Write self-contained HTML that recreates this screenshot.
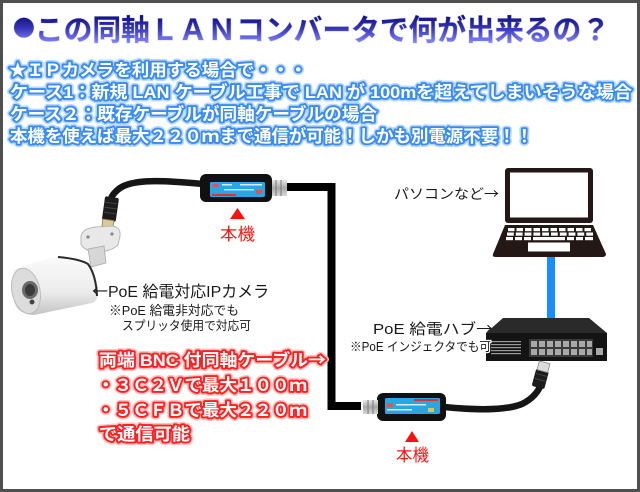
<!DOCTYPE html>
<html><head><meta charset="utf-8">
<style>
html,body{margin:0;padding:0;background:#fff;width:640px;height:492px;overflow:hidden;}
svg{display:block;}
text{font-family:"Liberation Sans","Noto Sans CJK JP",sans-serif;}
.s{font-family:"Noto Sans CJK JP",sans-serif;}
</style></head><body>
<svg width="640" height="492" viewBox="0 0 640 492" xmlns="http://www.w3.org/2000/svg">
<defs>
<linearGradient id="tg" x1="0" y1="14" x2="0" y2="42" gradientUnits="userSpaceOnUse">
<stop offset="0" stop-color="#0c0c72"/><stop offset="0.5" stop-color="#3434b8"/><stop offset="1" stop-color="#8080f8"/>
</linearGradient>
<linearGradient id="camb" x1="0" y1="0" x2="0" y2="1">
<stop offset="0" stop-color="#fafafa"/><stop offset="0.6" stop-color="#ececec"/><stop offset="1" stop-color="#c4c4c4"/>
</linearGradient>
<linearGradient id="bnc" x1="0" y1="0" x2="0" y2="1">
<stop offset="0" stop-color="#e8e8e8"/><stop offset="0.5" stop-color="#a8a8a8"/><stop offset="1" stop-color="#d8d8d8"/>
</linearGradient>
</defs>
<rect width="640" height="492" fill="#fff"/>

<!-- Title -->
<text x="9" y="40" font-size="29" font-weight="bold" fill="url(#tg)" stroke="#d4d4f4" stroke-width="1" paint-order="stroke" textLength="597" lengthAdjust="spacingAndGlyphs"><tspan class="s" font-size="22" dx="4" dy="-4">●</tspan><tspan dy="4">この同軸ＬＡＮコンバータで何が出来るの？</tspan></text>

<!-- Blue lines: halo -->
<g font-size="17" font-weight="bold" fill="#b8d8ff" stroke="#b8d8ff" stroke-width="7" stroke-linejoin="round">
<text x="9" y="76" textLength="298" lengthAdjust="spacingAndGlyphs"><tspan class="s">★</tspan>ＩＰカメラを利用する場合で・・・</text>
<text x="10" y="98" textLength="622" lengthAdjust="spacingAndGlyphs">ケース1：新規 LAN ケーブル工事で LAN が 100mを超えてしまいそうな場合</text>
<text x="10" y="120" textLength="367" lengthAdjust="spacingAndGlyphs">ケース２：既存ケーブルが同軸ケーブルの場合</text>
<text x="10" y="142" textLength="523" lengthAdjust="spacingAndGlyphs">本機を使えば最大２２０ｍまで通信が可能！しかも別電源不要！！</text>
</g>
<g font-size="17" font-weight="bold" fill="#fff" stroke="#3a8cf0" stroke-width="3.8" stroke-linejoin="round" paint-order="stroke">
<text x="9" y="76" textLength="298" lengthAdjust="spacingAndGlyphs"><tspan class="s">★</tspan>ＩＰカメラを利用する場合で・・・</text>
<text x="10" y="98" textLength="622" lengthAdjust="spacingAndGlyphs">ケース1：新規 LAN ケーブル工事で LAN が 100mを超えてしまいそうな場合</text>
<text x="10" y="120" textLength="367" lengthAdjust="spacingAndGlyphs">ケース２：既存ケーブルが同軸ケーブルの場合</text>
<text x="10" y="142" textLength="523" lengthAdjust="spacingAndGlyphs">本機を使えば最大２２０ｍまで通信が可能！しかも別電源不要！！</text>
</g>

<!-- Coax cable -->
<path d="M286 187 H331.5 V406 H361" fill="none" stroke="#000" stroke-width="8" stroke-linejoin="miter"/>

<!-- Top device cable -->
<path d="M204 184 C170 181,135 178,120 188 C112 194,111 198,110 202" fill="none" stroke="#151515" stroke-width="6.5" stroke-linecap="round"/>
<g transform="rotate(8 110 212)">
<rect x="103" y="197" width="14" height="24" rx="2" fill="#1c1c1c"/>
<line x1="104" y1="203" x2="116" y2="203" stroke="#444" stroke-width="1"/>
<line x1="104" y1="208" x2="116" y2="208" stroke="#444" stroke-width="1"/>
<line x1="104" y1="213" x2="116" y2="213" stroke="#444" stroke-width="1"/>
<rect x="104" y="220" width="11" height="11" fill="#d8c89a" stroke="#8a7a50" stroke-width="0.8"/>
</g>
<!-- Top device -->
<rect x="200" y="174" width="72" height="28" rx="6" fill="#111"/>
<rect x="210" y="182" width="55" height="15" rx="1.5" fill="#2aa6e2"/>
<rect x="212" y="194" width="24" height="2" fill="#e03030"/>
<rect x="213" y="184" width="5" height="3" fill="#e85050"/>
<rect x="222" y="184" width="10" height="1.5" fill="#fff" opacity="0.8"/>
<rect x="240" y="184" width="22" height="1.5" fill="#fff" opacity="0.8"/>
<rect x="224" y="189" width="30" height="1.5" fill="#fff" opacity="0.7"/>
<rect x="256" y="190" width="6" height="4" fill="#e85050"/>
<rect x="272" y="180" width="15" height="16" fill="url(#bnc)"/>
<line x1="276" y1="180" x2="276" y2="196" stroke="#777" stroke-width="1"/>
<line x1="281" y1="180" x2="281" y2="196" stroke="#777" stroke-width="1"/>
<polygon points="237.5,208 230,219 245,219" fill="#ff1010"/>
<text x="220" y="240" font-size="17" fill="#ff1414" textLength="35" lengthAdjust="spacingAndGlyphs">本機</text>

<!-- Camera -->
<path d="M81 236 Q83 228 96 227 L112 226 Q121 227 120 236 L118 245 Q110 252 96 252 Q84 251 81 244 Z" fill="#e8e8e8" stroke="#b8b8b8" stroke-width="1"/>
<circle cx="88" cy="237" r="1.6" fill="#888"/>
<circle cx="112" cy="234" r="1.6" fill="#888"/>
<path d="M88 249 L104 246 L106 263 L91 267 Z" fill="#d6d6d6" stroke="#aaa" stroke-width="0.8"/>
<path d="M13 270 Q40 259 58 257 L88 264 Q97 272 98 292 Q98 301 92 303 L34 315 Q17 314 14 301 Z" fill="url(#camb)"/>
<path d="M58 257 Q80 259 88 264 Q96 275 97 296" fill="none" stroke="#2a2a2a" stroke-width="2"/>
<ellipse cx="26" cy="291" rx="14" ry="23" transform="rotate(-12 26 291)" fill="#dcdcdc" stroke="#bcbcbc" stroke-width="1"/>
<ellipse cx="30" cy="290" rx="8" ry="9" fill="#6a6a6a"/>
<ellipse cx="30" cy="290" rx="5" ry="6" fill="#3a3a3a"/>
<circle cx="32" cy="302" r="2.5" fill="#444"/>

<!-- Labels -->
<g fill="#1a1a1a">
<text x="92" y="297" font-size="16" textLength="177" lengthAdjust="spacingAndGlyphs"><tspan class="s">←</tspan>PoE 給電対応IPカメラ</text>
<text x="109" y="315" font-size="13" textLength="130" lengthAdjust="spacingAndGlyphs"><tspan class="s">※</tspan>PoE 給電非対応でも</text>
<text x="122" y="330" font-size="12.5" textLength="129" lengthAdjust="spacingAndGlyphs">スプリッタ使用で対応可</text>
<text x="394" y="199" font-size="14" textLength="105" lengthAdjust="spacingAndGlyphs">パソコンなど<tspan class="s">→</tspan></text>
<text x="373" y="334" font-size="15" textLength="120" lengthAdjust="spacingAndGlyphs">PoE 給電ハブ<tspan class="s">→</tspan></text>
</g>

<!-- Laptop -->
<rect x="505" y="168" width="88" height="55" rx="3" fill="#231815"/>
<rect x="510" y="172.5" width="78" height="45" fill="#fff"/>
<path d="M505 225 L593 225 L606 254 Q606 257 602 257 L496 257 Q492 257 493 254 Z" fill="#231815"/>
<g fill="#fff">
<rect x="508" y="228" width="6.5" height="3.2"/><rect x="516.5" y="228" width="6.5" height="3.2"/><rect x="525" y="228" width="6.5" height="3.2"/><rect x="533.5" y="228" width="6.5" height="3.2"/><rect x="542" y="228" width="6.5" height="3.2"/><rect x="550.5" y="228" width="6.5" height="3.2"/><rect x="559" y="228" width="6.5" height="3.2"/><rect x="567.5" y="228" width="6.5" height="3.2"/><rect x="576" y="228" width="6.5" height="3.2"/><rect x="584.5" y="228" width="6.5" height="3.2"/>
<rect x="507" y="232.5" width="6.8" height="3.2"/><rect x="515.8" y="232.5" width="6.8" height="3.2"/><rect x="524.6" y="232.5" width="6.8" height="3.2"/><rect x="533.4" y="232.5" width="6.8" height="3.2"/><rect x="542.2" y="232.5" width="6.8" height="3.2"/><rect x="551" y="232.5" width="6.8" height="3.2"/><rect x="559.8" y="232.5" width="6.8" height="3.2"/><rect x="568.6" y="232.5" width="6.8" height="3.2"/><rect x="577.4" y="232.5" width="6.8" height="3.2"/><rect x="586.2" y="232.5" width="6.8" height="3.2"/>
<rect x="506" y="237" width="7" height="3.2"/><rect x="515" y="237" width="7" height="3.2"/><rect x="524" y="237" width="7" height="3.2"/><rect x="533" y="237" width="32" height="3.2"/><rect x="567" y="237" width="7" height="3.2"/><rect x="576" y="237" width="7" height="3.2"/><rect x="585" y="237" width="8" height="3.2"/>
<rect x="528" y="242.5" width="42" height="9"/>
</g>

<!-- Blue LAN -->
<rect x="547" y="257" width="8" height="62" fill="#1a8cff"/>

<!-- Hub -->
<polygon points="503,318 589,318 607,333 486,333" fill="#2a2a2a"/>
<rect x="486" y="333" width="121" height="28" fill="#141414"/>
<g fill="#9a9a9a">
<rect x="491" y="341" width="30" height="1.2"/><rect x="491" y="344" width="30" height="1.2"/><rect x="491" y="347" width="30" height="1.2"/><rect x="491" y="350" width="30" height="1.2"/><rect x="491" y="353" width="30" height="1.2"/>
</g>
<rect x="529" y="339" width="64" height="18" fill="#3a3a3a"/>
<g fill="#a8a8a8">
<rect x="531" y="341" width="6" height="6"/><rect x="539" y="341" width="6" height="6"/><rect x="547" y="341" width="6" height="6"/><rect x="555" y="341" width="6" height="6"/><rect x="563" y="341" width="6" height="6"/><rect x="571" y="341" width="6" height="6"/><rect x="579" y="341" width="6" height="6"/><rect x="587" y="341" width="5" height="6"/>
<rect x="531" y="349" width="6" height="6"/><rect x="539" y="349" width="6" height="6"/><rect x="547" y="349" width="6" height="6"/><rect x="555" y="349" width="6" height="6"/><rect x="563" y="349" width="6" height="6"/><rect x="571" y="349" width="6" height="6"/><rect x="579" y="349" width="6" height="6"/><rect x="587" y="349" width="5" height="6"/>
<rect x="596" y="348" width="7" height="7"/>
</g>
<text x="350" y="351" font-size="12.5" fill="#1a1a1a" stroke="#fff" stroke-width="2.5" paint-order="stroke" textLength="141" lengthAdjust="spacingAndGlyphs"><tspan class="s">※</tspan>PoE インジェクタでも可</text>

<!-- Bottom device cable -->
<path d="M444 407 C475 410,505 411,522 404 C534 398,539 390,541 384" fill="none" stroke="#151515" stroke-width="6.5" stroke-linecap="round"/>
<g transform="rotate(15 541 378)">
<rect x="534" y="370" width="13" height="18" rx="2" fill="#1c1c1c"/>
<line x1="535" y1="375" x2="546" y2="375" stroke="#444" stroke-width="1"/>
<line x1="535" y1="380" x2="546" y2="380" stroke="#444" stroke-width="1"/>
<rect x="535" y="362" width="11" height="9" fill="#dcdcdc" stroke="#888" stroke-width="0.8"/>
</g>
<!-- Bottom device -->
<rect x="377" y="393" width="69" height="28" rx="6" fill="#111"/>
<rect x="385" y="398" width="55" height="16" rx="1.5" fill="#2aa6e2"/>
<rect x="414" y="399" width="24" height="2" fill="#e03030"/>
<rect x="387" y="403" width="6" height="4" fill="#e85050"/>
<rect x="396" y="404" width="30" height="1.5" fill="#fff" opacity="0.8"/>
<rect x="387" y="409" width="25" height="1.5" fill="#fff" opacity="0.8"/>
<rect x="428" y="408" width="6" height="4" fill="#e0c060"/>
<rect x="363" y="400" width="15" height="14" fill="url(#bnc)"/>
<line x1="368" y1="400" x2="368" y2="414" stroke="#777" stroke-width="1"/>
<line x1="373" y1="400" x2="373" y2="414" stroke="#777" stroke-width="1"/>
<polygon points="412,431 405,442 419,442" fill="#ff1010"/>
<text x="396" y="461" font-size="17" fill="#ff1414" textLength="33" lengthAdjust="spacingAndGlyphs">本機</text>

<!-- Red text block -->
<g font-size="17" font-weight="bold" fill="#ffc0c0" stroke="#ffc0c0" stroke-width="7" stroke-linejoin="round">
<text x="99" y="366" textLength="227" lengthAdjust="spacingAndGlyphs">両端 BNC 付同軸ケーブル<tspan class="s">→</tspan></text>
<text x="97" y="391" textLength="210" lengthAdjust="spacingAndGlyphs">・３Ｃ２Ｖで最大１００ｍ</text>
<text x="97" y="416" textLength="210" lengthAdjust="spacingAndGlyphs">・５ＣＦＢで最大２２０ｍ</text>
<text x="99" y="440" textLength="91" lengthAdjust="spacingAndGlyphs">で通信可能</text>
</g>
<g font-size="17" font-weight="bold" fill="#fff" stroke="#ff2020" stroke-width="3.8" stroke-linejoin="round" paint-order="stroke">
<text x="99" y="366" textLength="227" lengthAdjust="spacingAndGlyphs">両端 BNC 付同軸ケーブル<tspan class="s">→</tspan></text>
<text x="97" y="391" textLength="210" lengthAdjust="spacingAndGlyphs">・３Ｃ２Ｖで最大１００ｍ</text>
<text x="97" y="416" textLength="210" lengthAdjust="spacingAndGlyphs">・５ＣＦＢで最大２２０ｍ</text>
<text x="99" y="440" textLength="91" lengthAdjust="spacingAndGlyphs">で通信可能</text>
</g>

<!-- Frame -->
<rect x="1.5" y="1.5" width="637" height="489" fill="none" stroke="#4f4f4f" stroke-width="3"/>
</svg>
</body></html>
